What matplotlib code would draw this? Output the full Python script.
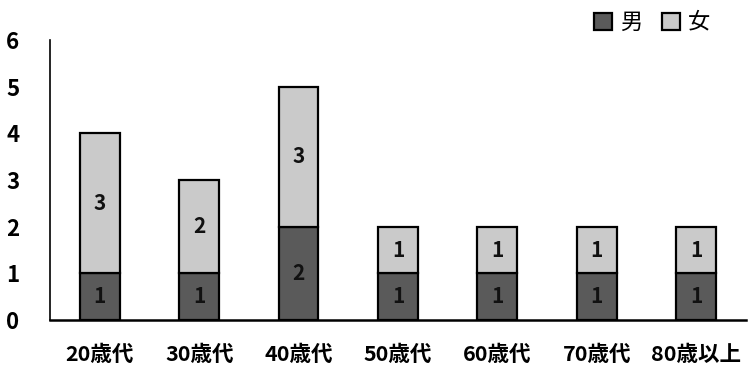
import matplotlib
matplotlib.use("Agg")
import matplotlib.pyplot as plt
import numpy as np

plt.rcParams['font.family'] = ['Noto Sans CJK JP', 'DejaVu Sans']

categories = ["20歳代", "30歳代", "40歳代", "50歳代", "60歳代", "70歳代", "80歳以上"]
male = [1, 1, 2, 1, 1, 1, 1]
female = [3, 2, 3, 1, 1, 1, 1]
series_names = ["男", "女"]
yticks = [0, 1, 2, 3, 4, 5, 6]

fig = plt.figure(figsize=(7.49, 3.70), dpi=100)
ax = fig.add_axes([0.0668, 0.135, 0.929, 0.757])

x = np.arange(len(categories))
w = 0.4
male_color = "#5a5a5a"
female_color = "#cacaca"

ax.bar(x, male, width=w, color=male_color, edgecolor="black", linewidth=1.6, label=series_names[0])
ax.bar(x, female, width=w, bottom=male, color=female_color, edgecolor="black", linewidth=1.6, label=series_names[1])

for i in range(len(categories)):
    ax.text(x[i], male[i] / 2, str(male[i]), ha="center", va="center",
            fontsize=15, fontweight="bold", color="#111111")
    ax.text(x[i], male[i] + female[i] / 2, str(female[i]), ha="center", va="center",
            fontsize=15, fontweight="bold", color="#111111")

ax.set_xlim(-0.5, 6.5)
ax.set_ylim(0, 6)
ax.set_yticks(yticks)
ax.set_yticklabels([str(t) for t in yticks], fontsize=16, fontweight="bold")
ax.set_xticks(x)
ax.set_xticklabels(categories, fontsize=15.5, fontweight="bold")
ax.tick_params(axis="both", length=0)
ax.tick_params(axis="y", pad=22)
ax.tick_params(axis="x", pad=17)

for s in ["top", "right"]:
    ax.spines[s].set_visible(False)
ax.spines["left"].set_linewidth(1.2)
ax.spines["bottom"].set_linewidth(1.8)

ax.legend(loc="center right", bbox_to_anchor=(0.948, 1.063), ncol=2, frameon=False,
          fontsize=16, handlelength=0.8, handleheight=0.8, handletextpad=0.35,
          columnspacing=0.9, borderpad=0, borderaxespad=0)

fig.savefig("out.png", dpi=100, facecolor="white")
